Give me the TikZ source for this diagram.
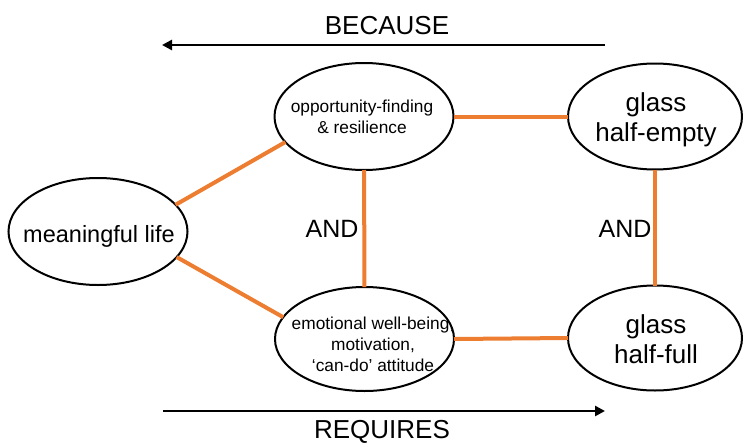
\documentclass[tikz,border=0pt]{standalone}
\usepackage{fontspec}
\setmainfont{Liberation Sans}
\usetikzlibrary{shapes.geometric,arrows.meta}
\definecolor{linkorange}{RGB}{237,125,49}
\begin{document}
\begin{tikzpicture}[x=1pt,y=-1pt,
  oval/.style={draw=black,line width=2pt,ellipse,inner sep=0pt,outer sep=0pt},
  linkline/.style={draw=linkorange,line width=4pt},
  flowarrow/.style={draw=black,line width=2.75pt,-{Triangle[length=10pt,width=10pt]}},
  bigtext/.style={font=\fontsize{26}{30}\selectfont,align=center,inner sep=0pt},
  smalltext/.style={font=\fontsize{17.3}{21}\selectfont,align=center,inner sep=0pt},
  labeltext/.style={font=\fontsize{25}{30}\selectfont,inner sep=0pt},
]
\useasboundingbox (0,0) rectangle (743,444);

% ellipses
\node[oval,minimum width=179pt,minimum height=107pt] (life) at (98,231.5) {};
\node[oval,minimum width=179pt,minimum height=107pt] (opp) at (364,116.5) {};
\node[oval,minimum width=174pt,minimum height=106pt] (he) at (655,116.5) {};
\node[oval,minimum width=179pt,minimum height=104pt] (emo) at (364.5,339) {};
\node[oval,minimum width=174pt,minimum height=105pt] (hf) at (655,338) {};

% texts
\node[labeltext,font=\fontsize{23.5}{28}\selectfont] (lifet) at (99,236) {meaningful life};
\node[smalltext] (oppt) at (362,117) {opportunity-finding\\\& resilience};
\node[smalltext] (emot) at (373,344) {emotional well-being,\\motivation,\\‘can-do’ attitude};
\node[bigtext] (het) at (656,120) {glass\\half-empty};
\node[bigtext] (hft) at (656,339) {glass\\half-full};

% orange links
\draw[linkline] (opp.east) -- (he.west);
\draw[linkline] (emo.east) -- (hf.west);
\draw[linkline] (opp) -- (emo);
\draw[linkline] (he) -- (hf);
\draw[linkline] (life.19) -- (opp.198.6);
\draw[linkline] (life.342) -- (emo.165.3);

% AND labels
\node[labeltext] (and1) at (332,229) {AND};
\node[labeltext] (and2) at (625,229) {AND};

% arrows
\coordinate (bstart) at (605,45);
\coordinate (bend) at (162,45);
\draw[flowarrow] (bstart) -- (bend);
\node[labeltext,font=\fontsize{26}{30}\selectfont] (because) at (387,25.5) {BECAUSE};

\coordinate (rstart) at (163,411);
\coordinate (rend) at (605,411);
\draw[flowarrow] (rstart) -- (rend);
\node[labeltext,font=\fontsize{26}{30}\selectfont] (requires) at (382,431.5) {REQUIRES};
\end{tikzpicture}
\end{document}
